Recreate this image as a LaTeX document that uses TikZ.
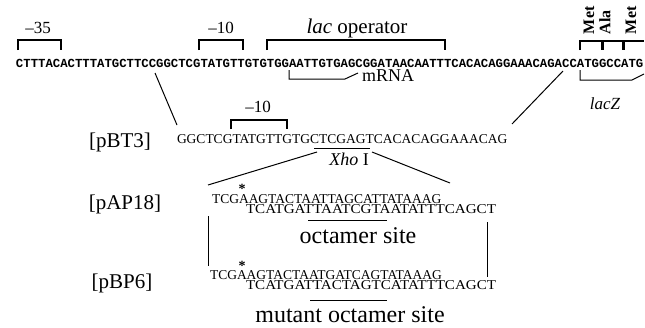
\documentclass[tikz,border=0pt]{standalone}
\usepackage{fontspec}
\setmainfont{Liberation Serif}
\newfontfamily\seqmono{Liberation Mono}
\begin{document}
\begin{tikzpicture}[x=1pt,y=-1pt,
  every node/.style={inner sep=0pt,outer sep=0pt},
  topseq/.style={font=\seqmono\bfseries\fontsize{12.3}{14}\selectfont,anchor=base west},
  dna/.style={font=\fontsize{13.5}{15}\selectfont,anchor=base west},
  tag/.style={font=\fontsize{21}{24}\selectfont},
  lbl/.style={font=\fontsize{17}{20}\selectfont},
  big/.style={font=\fontsize{24}{28}\selectfont},
  codon/.style={font=\bfseries\fontsize{16}{18}\selectfont,rotate=90,anchor=west},
  star/.style={font=\bfseries\fontsize{14}{16}\selectfont},
  brk/.style={line width=1.3pt},
  conn/.style={line width=1pt},
  thick tick/.style={line width=3pt},
]
\useasboundingbox (0,0) rectangle (645,327);

% top sequence
\node[topseq] (top) at (16,67) {CTTTACACTTTATGCTTCCGGCTCGTATGTTGTGTGGAATTGTGAGCGGATAACAATTTCACACAGGAAACAGACCATGGCCATG};

% labels above
\node[lbl] (m35) at (38,28) {\textendash35};
\node[lbl] (m10) at (221,28) {\textendash10};
\node[font=\fontsize{21}{24}\selectfont] (lacop) at (357,28) {\textit{lac} operator};
\node[codon] (met1) at (589,34) {Met};
\node[codon] (ala) at (605,34) {Ala};
\node[codon] (met2) at (631,34) {Met};

% brackets
\draw[brk] (18,50) -- (18,40) -- (61,40) -- (61,50);
\draw[brk] (199,50) -- (199,40) -- (243,40) -- (243,50);
\draw[brk] (267,50) -- (267,40) -- (445,40) -- (445,50);
\draw[brk] (580,50) -- (580,41) -- (644,41);
\draw[thick tick] (602,41) -- (602,50);
\draw[thick tick] (623,41) -- (623,50);

% mRNA and lacZ arrows
\coordinate (mstart) at (289,70);
\coordinate (zstart) at (580,70);
\draw[conn] (mstart) -- ++(0,9) -- ++(56,0) -- ++(13,-6);
\node[font=\fontsize{18}{21}\selectfont] (mrna) at (388,76) {mRNA};
\draw[conn] (zstart) -- ++(0,10) -- ++(52,0) -- ++(12,-6);
\node[font=\itshape\fontsize{17}{20}\selectfont] (lacz) at (605,104) {lacZ};

% connectors top -> pBT3
\coordinate (tl) at (155,73);
\coordinate (tr) at (563,71);
\coordinate (bl) at (177,125);
\coordinate (br) at (512,124);
\draw[conn] (tl) -- (bl);
\draw[conn] (tr) -- (br);

% pBT3
\node[tag] (pbt3) at (120,142) {[pBT3]};
\node[dna] (seqbt3) at (177,143) {GGCTCGTATGTTGTGCTCGAGTCACACAGGAAACAG};
\node[lbl] (m10b) at (258,107) {\textendash10};
\draw[brk] (231,129) -- (231,120) -- (287,120) -- (287,129);
\coordinate (xu1) at (314,148);
\coordinate (xu2) at (370,148);
\draw[conn] (xu1) -- (xu2);
\node[font=\fontsize{18}{21}\selectfont] (xho) at (349,159) {\textit{Xho} I};
\coordinate (xl1) at (317,152);
\coordinate (xl2) at (208,185);
\coordinate (xr1) at (372,152);
\coordinate (xr2) at (450,183);
\draw[conn] (xl1) -- (xl2);
\draw[conn] (xr1) -- (xr2);

% pAP18
\node[tag] (pap18) at (125,204) {[pAP18]};
\node[star] (st1) at (242,189) {*};
\node[dna] (ap18t) at (212,203) {TCGAAGTACTAATTAGCATTATAAAG};
\node[dna] (ap18b) at (246,213) {\resizebox{250pt}{\height}{TCATGATTAATCGTAATATTTCAGCT}};
\coordinate (au1) at (308,220);
\coordinate (au2) at (387,220);
\draw[conn] (au1) -- (au2);
\node[big] (oct1) at (358,236) {octamer site};
\coordinate (vl1) at (208,216);
\coordinate (vl2) at (208,266);
\coordinate (vr1) at (487,222);
\coordinate (vr2) at (487,277);
\draw[conn] (vl1) -- (vl2);
\draw[conn] (vr1) -- (vr2);

% pBP6
\node[tag] (pbp6) at (122,283) {[pBP6]};
\node[star] (st2) at (242,266) {*};
\node[dna] (bp6t) at (210,279) {TCGAAGTACTAATGATCAGTATAAAG};
\node[dna] (bp6b) at (246,289) {\resizebox{250pt}{\height}{TCATGATTACTAGTCATATTTCAGCT}};
\coordinate (bu1) at (310,300);
\coordinate (bu2) at (387,300);
\draw[conn] (bu1) -- (bu2);
\node[big] (oct2) at (350,315) {mutant octamer site};
\end{tikzpicture}
\end{document}
